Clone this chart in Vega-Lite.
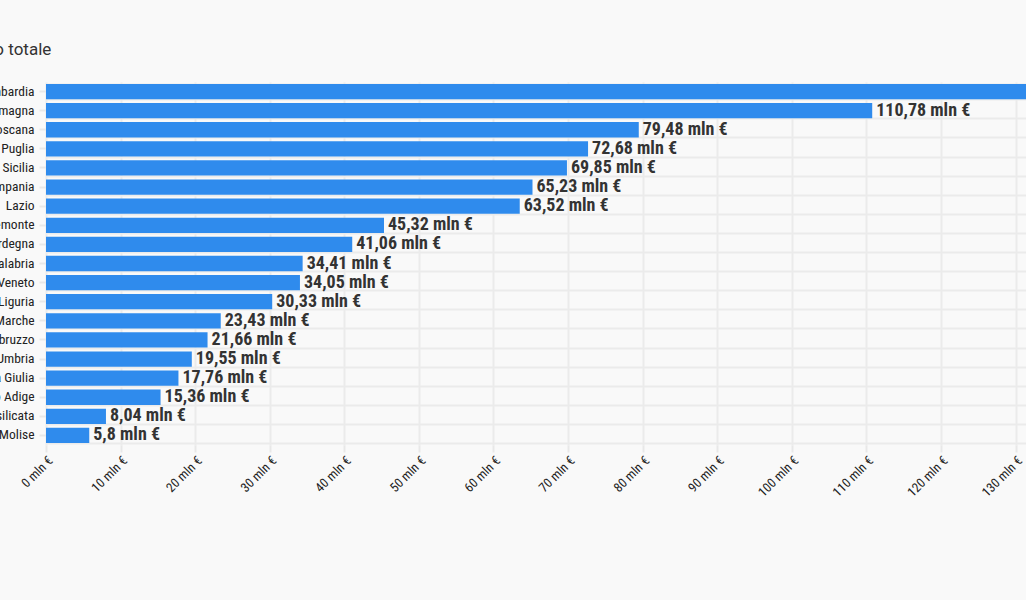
{
  "$schema": "https://vega.github.io/schema/vega-lite/v6.json",
  "width": 980,
  "height": 363,
  "autosize": "none",
  "padding": {"left": 46, "top": 82, "right": 0, "bottom": 155},
  "background": "#f9f9f9",
  "title": {"text": "Importo totale", "anchor": "start", "frame": "group", "dx": -102, "fontSize": 17, "fontWeight": "normal", "color": "#333333", "font": "Roboto", "offset": 23},
  "config": {
    "locale": {"number": {"decimal": ",", "thousands": ".", "grouping": [3], "currency": ["", " mln €"]}},
    "view": {"stroke": null},
    "font": "Roboto Condensed, Liberation Sans Narrow, DejaVu Sans Condensed, sans-serif"
  },
  "data": {"values": [
    {"regione": "Lombardia", "importo": 152.4},
    {"regione": "Emilia-Romagna", "importo": 110.78},
    {"regione": "Toscana", "importo": 79.48},
    {"regione": "Puglia", "importo": 72.68},
    {"regione": "Sicilia", "importo": 69.85},
    {"regione": "Campania", "importo": 65.23},
    {"regione": "Lazio", "importo": 63.52},
    {"regione": "Piemonte", "importo": 45.32},
    {"regione": "Sardegna", "importo": 41.06},
    {"regione": "Calabria", "importo": 34.41},
    {"regione": "Veneto", "importo": 34.05},
    {"regione": "Liguria", "importo": 30.33},
    {"regione": "Marche", "importo": 23.43},
    {"regione": "Abruzzo", "importo": 21.66},
    {"regione": "Umbria", "importo": 19.55},
    {"regione": "Friuli-Venezia Giulia", "importo": 17.76},
    {"regione": "Trentino-Alto Adige", "importo": 15.36},
    {"regione": "Basilicata", "importo": 8.04},
    {"regione": "Molise", "importo": 5.8}
  ]},
  "layer": [
    {
      "mark": {"type": "bar", "color": "#2f8bed", "clip": true},
      "encoding": {
        "y": {"field": "regione", "type": "nominal", "sort": null,
          "scale": {"paddingInner": 0.2, "paddingOuter": 0.1},
          "axis": {"title": null, "grid": false, "domain": false, "labelFontSize": 13.5, "labelColor": "#222222", "labelPadding": 5, "tickSize": 7, "tickWidth": 2, "tickColor": "#e8e8e8", "labelFont": "Roboto Condensed, Liberation Sans Narrow, DejaVu Sans Condensed, sans-serif"}},
        "x": {"field": "importo", "type": "quantitative",
          "scale": {"domain": [0, 131.4], "nice": false, "zero": true},
          "axis": {"title": null, "values": [0,10,20,30,40,50,60,70,80,90,100,110,120,130], "format": "$d", "labelAngle": -45, "labelFontSize": 13, "labelColor": "#222222", "domain": false, "grid": true, "gridColor": "#ebebeb", "gridWidth": 2, "tickColor": "#e8e8e8", "tickWidth": 2, "tickSize": 7, "labelFont": "Roboto Condensed, Liberation Sans Narrow, DejaVu Sans Condensed, sans-serif"}}
      }
    },
    {
      "mark": {"type": "text", "align": "left", "baseline": "middle", "dx": 4, "fontSize": 18, "fontWeight": "bold", "color": "#333333", "clip": true, "font": "Roboto Condensed, Liberation Sans Narrow, DejaVu Sans Condensed, sans-serif"},
      "encoding": {
        "y": {"field": "regione", "type": "nominal", "sort": null,
          "axis": {"title": null, "grid": true, "tickBand": "extent", "labels": false, "ticks": false, "domain": false, "gridColor": "#ebebeb", "gridWidth": 2}},
        "x": {"field": "importo", "type": "quantitative"},
        "text": {"field": "importo", "type": "quantitative", "format": "$.2~f"}
      }
    }
  ],
  "resolve": {"axis": {"y": "independent"}}
}
